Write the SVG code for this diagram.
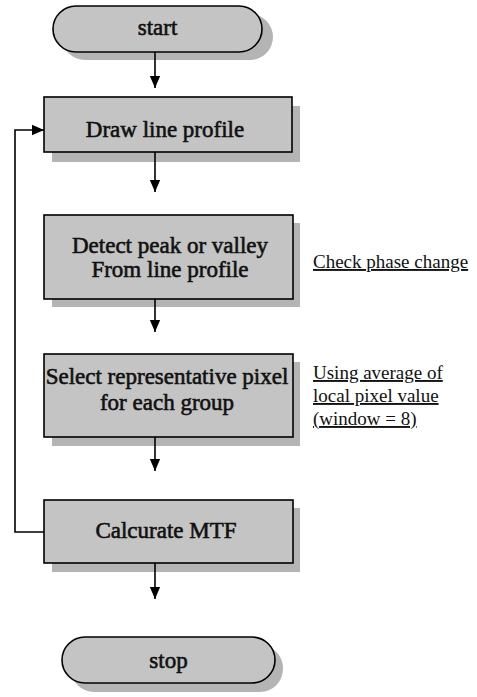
<svg xmlns="http://www.w3.org/2000/svg" width="477" height="697" viewBox="0 0 477 697">
<style>
.shadow{fill:#b4b4b4;stroke:none}
.box{fill:#c4c4c4;stroke:#000;stroke-width:1.6}
.lbl{font-family:"Liberation Serif","Times New Roman",serif;font-weight:normal;font-size:23px;fill:#111;stroke:#111;stroke-width:0.6;text-anchor:middle}
.note{font-family:"Liberation Serif","Times New Roman",serif;font-size:19px;fill:#111;text-decoration:underline}
.conn{fill:none;stroke:#000;stroke-width:1.6}
</style>
<defs>
<marker id="ah" markerWidth="12" markerHeight="14" refX="14" refY="6" viewBox="0 0 14 12" orient="auto" markerUnits="userSpaceOnUse">
<path d="M0,0 L14,6 L0,12 Z" fill="#000"/>
</marker>
</defs>
<rect width="477" height="697" fill="#fff"/>
<g id="start">
<rect class="shadow" x="62" y="14" width="211" height="46" rx="23"/>
<rect class="box" x="53" y="6" width="209" height="46" rx="23"/>
<text class="lbl" x="157.5" y="35">start</text>
</g>
<g id="draw">
<rect class="shadow" x="52" y="106" width="248" height="56"/>
<rect class="box" x="44" y="97" width="248" height="55"/>
<text class="lbl" x="165" y="137">Draw line profile</text>
</g>
<g id="detect">
<rect class="shadow" x="52" y="223" width="248" height="84"/>
<rect class="box" x="44" y="215" width="249" height="84"/>
<text class="lbl" x="170" y="253">Detect peak or valley</text>
<text class="lbl" x="170" y="277">From line profile</text>
</g>
<g id="select">
<rect class="shadow" x="52" y="362" width="248" height="84"/>
<rect class="box" x="44" y="354" width="249" height="83"/>
<text class="lbl" x="167" y="384">Select representative pixel</text>
<text class="lbl" x="167" y="410">for each group</text>
</g>
<g id="calc">
<rect class="shadow" x="52" y="508" width="248" height="64"/>
<rect class="box" x="44" y="500" width="249" height="63"/>
<text class="lbl" x="166" y="538">Calcurate MTF</text>
</g>
<g id="stop">
<rect class="shadow" x="71" y="645" width="212" height="47" rx="23"/>
<rect class="box" x="62" y="637" width="213" height="46" rx="23"/>
<text class="lbl" x="168.5" y="668">stop</text>
</g>
<g id="notes">
<text class="note" x="313" y="268">Check phase change</text>
<text class="note" x="313" y="379">Using average of</text>
<text class="note" x="313" y="402">local pixel value</text>
<text class="note" x="313" y="425">(window = 8)</text>
</g>
<g id="connectors">
<line class="conn" x1="155" y1="52" x2="155" y2="88" marker-end="url(#ah)"/>
<line class="conn" x1="155" y1="152" x2="155" y2="192" marker-end="url(#ah)"/>
<line class="conn" x1="155" y1="299" x2="155" y2="332" marker-end="url(#ah)"/>
<line class="conn" x1="155" y1="437" x2="155" y2="471" marker-end="url(#ah)"/>
<line class="conn" x1="155" y1="563" x2="155" y2="599" marker-end="url(#ah)"/>
<polyline class="conn" points="44,532 15,532 15,130 44,130" marker-end="url(#ah)"/>
</g>
</svg>
